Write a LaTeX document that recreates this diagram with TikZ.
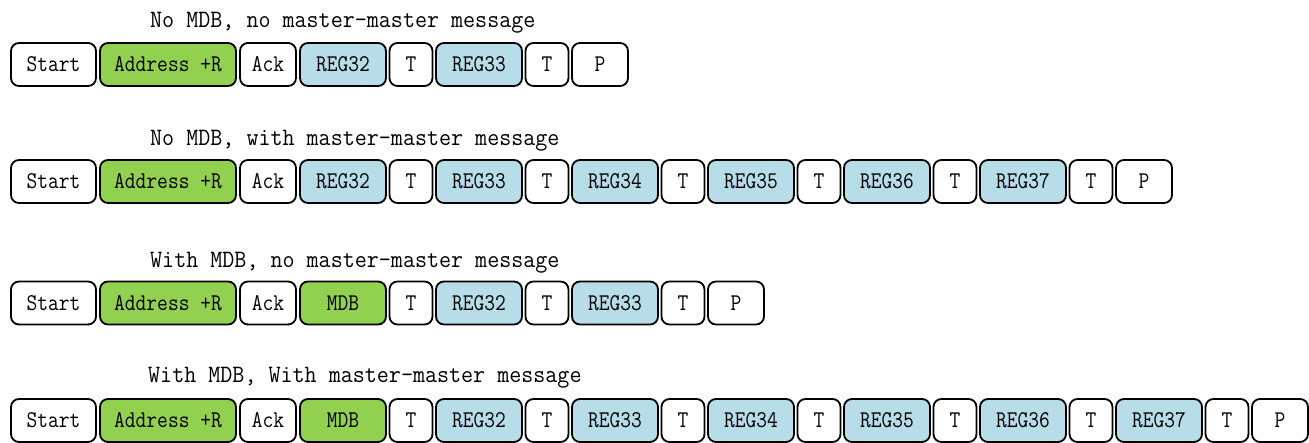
\documentclass[tikz,border=0pt]{standalone}
\usepackage{fontspec}
\newfontfamily\titlefont[FakeStretch=0.935]{Latin Modern Mono}
\newfontfamily\cellfont[FakeStretch=0.87]{Latin Modern Mono}
\definecolor{addrgreen}{RGB}{146,208,80}
\definecolor{regblue}{RGB}{183,221,232}

\begin{document}
\begin{tikzpicture}[x=1pt, y=-1pt,
    cell/.style={draw=black, line width=1.8pt, rounded corners=8pt, minimum height=43pt,
      inner sep=0pt, font=\cellfont\fontsize{24}{24}\selectfont},
    startcell/.style={cell, minimum width=85pt},
    addrcell/.style={cell, fill=addrgreen, minimum width=136pt},
    shortcell/.style={cell, minimum width=56pt},
    regcell/.style={cell, fill=regblue, minimum width=86pt},
    mdbcell/.style={cell, fill=addrgreen, minimum width=86pt},
    tcell/.style={cell, minimum width=43pt},
    caption/.style={anchor=base west, inner sep=0pt, font=\titlefont\fontsize{25}{25}\selectfont}]
        \useasboundingbox (0, 0) rectangle (1309, 442);

        % Row 1: no MDB, no master-master message
        \node[caption] (r1title) at (150, 27) {No MDB, no master-master message};
        \node[startcell] (r1start) at (53.5, 64.5) {Start};
        \node[addrcell] (r1addr) at (168, 64.5) {Address +R};
        \node[shortcell] (r1ack) at (268, 64.5) {Ack};
        \node[regcell] (r1reg32) at (343, 64.5) {REG32};
        \node[tcell] (r1t1) at (411, 64.5) {T};
        \node[regcell] (r1reg33) at (479, 64.5) {REG33};
        \node[tcell] (r1t2) at (547, 64.5) {T};
        \node[shortcell] (r1p) at (600, 64.5) {P};

        % Row 2: no MDB, with master-master message
        \node[caption] (r2title) at (150, 145) {No MDB, with master-master message};
        \node[startcell] (r2start) at (53.5, 181.5) {Start};
        \node[addrcell] (r2addr) at (168, 181.5) {Address +R};
        \node[shortcell] (r2ack) at (268, 181.5) {Ack};
        \node[regcell] (r2reg32) at (343, 181.5) {REG32};
        \node[tcell] (r2t1) at (411, 181.5) {T};
        \node[regcell] (r2reg33) at (479, 181.5) {REG33};
        \node[tcell] (r2t2) at (547, 181.5) {T};
        \node[regcell] (r2reg34) at (615, 181.5) {REG34};
        \node[tcell] (r2t3) at (683, 181.5) {T};
        \node[regcell] (r2reg35) at (751, 181.5) {REG35};
        \node[tcell] (r2t4) at (819, 181.5) {T};
        \node[regcell] (r2reg36) at (887, 181.5) {REG36};
        \node[tcell] (r2t5) at (955, 181.5) {T};
        \node[regcell] (r2reg37) at (1023, 181.5) {REG37};
        \node[tcell] (r2t6) at (1091, 181.5) {T};
        \node[shortcell] (r2p) at (1144, 181.5) {P};

        % Row 3: with MDB, no master-master message
        \node[caption] (r3title) at (150, 267) {With MDB, no master-master message};
        \node[startcell] (r3start) at (53.5, 303) {Start};
        \node[addrcell] (r3addr) at (168, 303) {Address +R};
        \node[shortcell] (r3ack) at (268, 303) {Ack};
        \node[mdbcell] (r3mdb) at (343, 303) {MDB};
        \node[tcell] (r3t1) at (411, 303) {T};
        \node[regcell] (r3reg32) at (479, 303) {REG32};
        \node[tcell] (r3t2) at (547, 303) {T};
        \node[regcell] (r3reg33) at (615, 303) {REG33};
        \node[tcell] (r3t3) at (683, 303) {T};
        \node[shortcell] (r3p) at (736, 303) {P};

        % Row 4: with MDB, with master-master message
        \node[caption] (r4title) at (148, 382) {With MDB, With master-master message};
        \node[startcell] (r4start) at (53.5, 420.5) {Start};
        \node[addrcell] (r4addr) at (168, 420.5) {Address +R};
        \node[shortcell] (r4ack) at (268, 420.5) {Ack};
        \node[mdbcell] (r4mdb) at (343, 420.5) {MDB};
        \node[tcell] (r4t1) at (411, 420.5) {T};
        \node[regcell] (r4reg32) at (479, 420.5) {REG32};
        \node[tcell] (r4t2) at (547, 420.5) {T};
        \node[regcell] (r4reg33) at (615, 420.5) {REG33};
        \node[tcell] (r4t3) at (683, 420.5) {T};
        \node[regcell] (r4reg34) at (751, 420.5) {REG34};
        \node[tcell] (r4t4) at (819, 420.5) {T};
        \node[regcell] (r4reg35) at (887, 420.5) {REG35};
        \node[tcell] (r4t5) at (955, 420.5) {T};
        \node[regcell] (r4reg36) at (1023, 420.5) {REG36};
        \node[tcell] (r4t6) at (1091, 420.5) {T};
        \node[regcell] (r4reg37) at (1159, 420.5) {REG37};
        \node[tcell] (r4t7) at (1227, 420.5) {T};
        \node[shortcell] (r4p) at (1280, 420.5) {P};
      \end{tikzpicture}
\end{document}
